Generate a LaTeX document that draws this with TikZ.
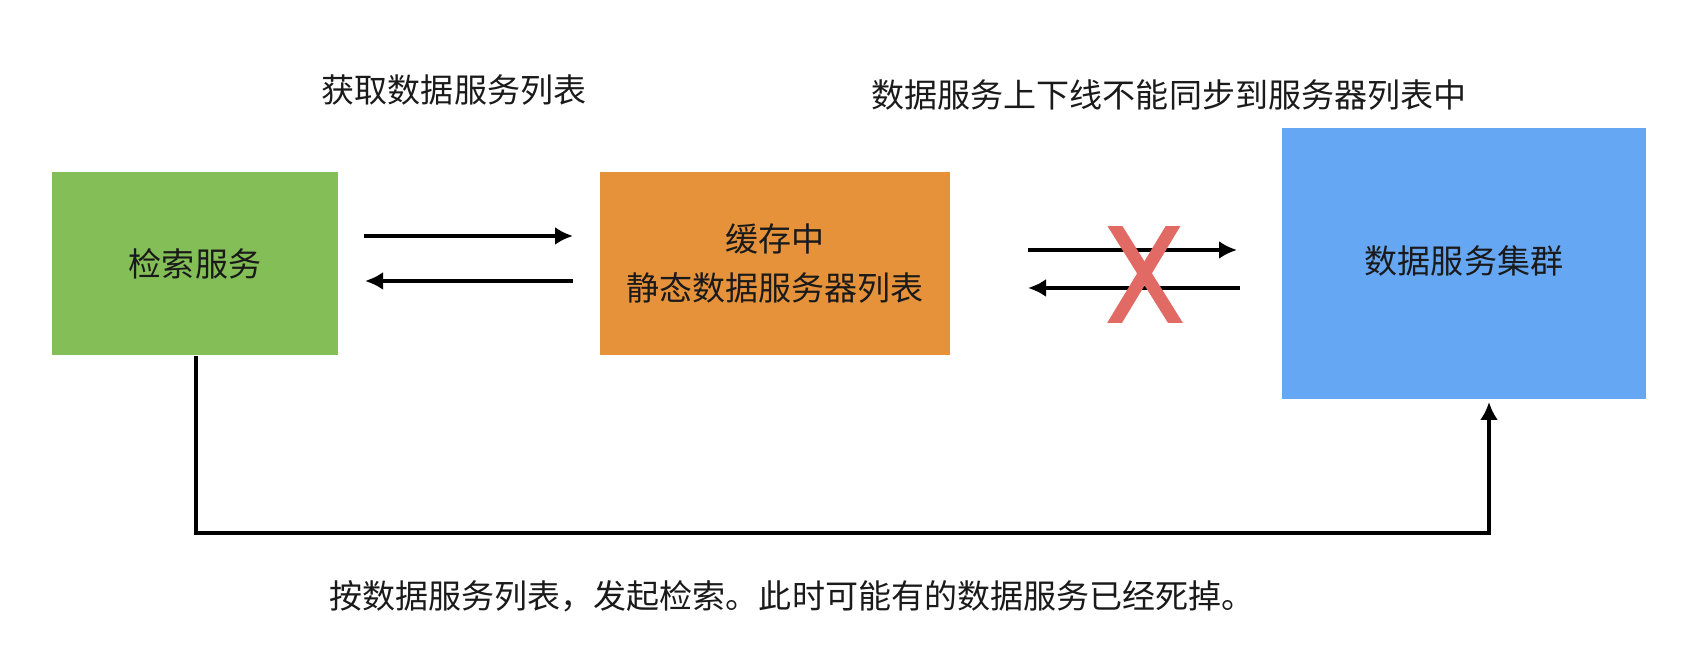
\documentclass[tikz,border=0pt]{standalone}
\usepackage{fontspec}
\setmainfont{Noto Sans CJK SC}
\usetikzlibrary{arrows.meta}
\definecolor{srvgreen}{HTML}{83BF56}
\definecolor{srvorange}{HTML}{E6923B}
\definecolor{srvblue}{HTML}{66A7F3}
\definecolor{crossred}{HTML}{E26A64}
\definecolor{txtgray}{HTML}{1A1A1A}

\begin{document}
\begin{tikzpicture}[font=\fontsize{9.4}{13.9}\selectfont, text=txtgray,
  box/.style = {minimum height=1.83cm, inner sep=0pt, align=center},
  link/.style = {line width=1.15pt, -{Latex[length=1.8mm,width=1.8mm]}},
  cross/.style = {line width=3.6pt, crossred}]
\useasboundingbox (0,0) rectangle (16.86,6.68);
%\draw[help lines] (0,0) grid (17,7);
\node (search) [box, fill=srvgreen, minimum width=2.86cm] at (1.95,4.045) {检索服务};
\node (cache) [box, fill=srvorange, minimum width=3.50cm] at (7.75,4.045) {缓存中\\静态数据服务器列表};
\node (cluster) [box, fill=srvblue, minimum width=3.64cm, minimum height=2.71cm] at (14.64,4.045) {\raisebox{0.8mm}{数据服务集群}};
\node (get) at (4.54,5.78) {获取数据服务列表};
\node (sync) at (11.69,5.73) {数据服务上下线不能同步到服务器列表中};
\node (query) at (7.92,0.72) {按数据服务列表，发起检索。此时可能有的数据服务已经死掉。};
\coordinate (g_1) at (3.64,4.32);
\coordinate (g_2) at (5.73,4.32);
\coordinate (r_1) at (5.73,3.87);
\coordinate (r_2) at (3.65,3.87);
\coordinate (s_1) at (10.28,4.18);
\coordinate (s_2) at (12.37,4.18);
\coordinate (u_1) at (12.40,3.80);
\coordinate (u_2) at (10.28,3.80);
\coordinate (turn) at (1.96,1.35);
\coordinate (hit) at (14.89,2.66);

\path
(g_1) edge [link] (g_2)
(r_1) edge [link] (r_2)
(s_1) edge [link] (s_2)
(u_1) edge [link] (u_2);
\draw [link, line width=1pt] (search.south -| turn) -- (turn) -| (hit);

\begin{scope}
\clip (11.0,3.45) rectangle (11.9,4.41);
\draw [cross] (11.124,4.46) -- (11.786,3.40);
\draw [cross] (11.755,4.46) -- (11.115,3.40);
\end{scope}
\end{tikzpicture}
\end{document}
